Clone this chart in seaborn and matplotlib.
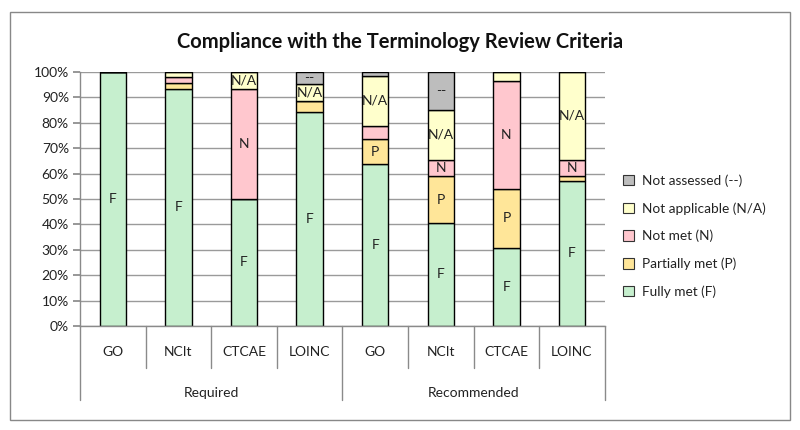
import numpy as np
import pandas as pd
import matplotlib
matplotlib.use("Agg")
import matplotlib.pyplot as plt
import matplotlib.patches as mpatches
import matplotlib.transforms as mtransforms
import seaborn as sns

# ---- data ----
groups = ["Required", "Required", "Required", "Required",
          "Recommended", "Recommended", "Recommended", "Recommended"]
terminologies = ["GO", "NCIt", "CTCAE", "LOINC", "GO", "NCIt", "CTCAE", "LOINC"]
statuses = ["Not assessed (--)", "Not applicable (N/A)", "Not met (N)",
            "Partially met (P)", "Fully met (F)"]
short_labels = ["--", "N/A", "N", "P", "F"]
fully_met = [100.0, 93.3, 50.0, 84.1, 63.7, 40.6, 30.8, 57.2]
partially_met = [0.0, 2.4, 0.0, 4.5, 9.9, 18.3, 23.3, 1.7]
not_met = [0.0, 2.4, 43.3, 0.0, 5.3, 6.5, 42.5, 6.6]
not_applicable = [0.0, 1.9, 6.7, 6.8, 19.5, 19.8, 3.4, 34.5]
not_assessed = [0.0, 0.0, 0.0, 4.6, 1.6, 14.8, 0.0, 0.0]
yticks = [0, 10, 20, 30, 40, 50, 60, 70, 80, 90, 100]
title = "Compliance with the Terminology Review Criteria"

colors = {
    "Not assessed (--)": "#BDBDBD",
    "Not applicable (N/A)": "#FFFFCC",
    "Not met (N)": "#FFC7CE",
    "Partially met (P)": "#FFE699",
    "Fully met (F)": "#C6EFCE",
}

series = {
    "Not assessed (--)": not_assessed,
    "Not applicable (N/A)": not_applicable,
    "Not met (N)": not_met,
    "Partially met (P)": partially_met,
    "Fully met (F)": fully_met,
}

keys = [f"{g}|{t}" for g, t in zip(groups, terminologies)]
rows = []
for s in statuses:
    for k, v in zip(keys, series[s]):
        rows.append({"cat": k, "status": s, "value": v})
df = pd.DataFrame(rows)
df["cat"] = pd.Categorical(df["cat"], categories=keys, ordered=True)

sns.set_theme(style="white")
plt.rcParams["font.family"] = ["Lato", "DejaVu Sans"]

fig = plt.figure(figsize=(8, 4.3), dpi=100)
ax = fig.add_axes([0.1, 0.2419, 0.656, 0.5907])

sns.histplot(data=df, x="cat", weights="value", hue="status", hue_order=statuses,
             multiple="stack", discrete=True, shrink=0.4, palette=colors,
             edgecolor="black", linewidth=1.0, alpha=1.0, legend=False, ax=ax)

ax.set_ylim(0, 100)
ax.set_xlim(-0.5, len(keys) - 0.5)
ax.set_yticks(yticks)
ax.set_yticklabels([f"{v}%" for v in yticks], fontsize=10, color="#222222")
ax.yaxis.grid(True, color="#9a9a9a", linewidth=1.0)
ax.set_axisbelow(True)
ax.set_xlabel("")
ax.set_ylabel("")
ax.set_xticks([])
for sp in ["top", "right"]:
    ax.spines[sp].set_visible(False)
for sp in ["left", "bottom"]:
    ax.spines[sp].set_color("#8a8a8a")
    ax.spines[sp].set_linewidth(1.0)
ax.tick_params(axis="y", left=True, length=5, color="#8a8a8a", pad=3)

# segment labels
for i in range(len(keys)):
    base = 0.0
    for s, lab in zip(statuses[::-1], short_labels[::-1]):
        v = series[s][i]
        if v > 6 or (lab == "--" and v > 4):
            ax.text(i, base + v / 2, lab, ha="center", va="center", fontsize=10,
                    color="#222222")
        base += v

# multilevel category axis
trans = mtransforms.blended_transform_factory(ax.transData, ax.transAxes)
for i in range(1, len(keys)):
    if groups[i] == groups[i - 1]:
        ax.plot([i - 0.5, i - 0.5], [0, -0.165], transform=trans, color="#8a8a8a",
                linewidth=1.0, clip_on=False)
group_edges = [-0.5] + [i - 0.5 for i in range(1, len(keys)) if groups[i] != groups[i - 1]] + [len(keys) - 0.5]
for e in group_edges:
    ax.plot([e, e], [0, -0.291], transform=trans, color="#8a8a8a",
            linewidth=1.0, clip_on=False)
for i, t in enumerate(terminologies):
    ax.text(i, -0.102, t, transform=trans, ha="center", va="center", fontsize=10,
            color="#222222")
for a, b in zip(group_edges[:-1], group_edges[1:]):
    ax.text((a + b) / 2, -0.264, groups[int(a + 0.5)], transform=trans,
            ha="center", va="center", fontsize=10, color="#222222")

# legend
handles = [mpatches.Patch(facecolor=colors[s], edgecolor="#333333", linewidth=0.8, label=s)
           for s in statuses]
leg = fig.legend(handles=handles, loc="center left", bbox_to_anchor=(0.77, 0.451),
                 frameon=False, fontsize=9.8, handlelength=0.8, handleheight=0.8,
                 handletextpad=0.6, labelspacing=1.12, borderpad=0)
for t in leg.get_texts():
    t.set_color("#222222")

fig.text(0.5, 0.902, title, ha="center", va="center", fontsize=14.5,
         fontweight="bold", color="#111111")

# outer border
fig.patches.append(mpatches.Rectangle((0.0125, 0.023), 0.975, 0.949, transform=fig.transFigure,
                                      fill=False, edgecolor="#888888", linewidth=1.0))

fig.savefig("out.png", dpi=100)
